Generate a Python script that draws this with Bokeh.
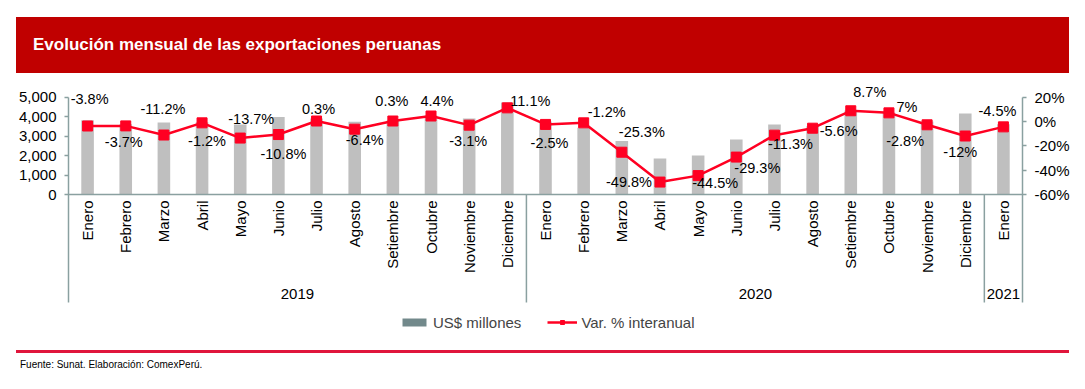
import numpy as np
from bokeh.plotting import figure
from bokeh.layouts import column
from bokeh.models import (Range1d, LinearAxis, FixedTicker, NumeralTickFormatter, PrintfTickFormatter,
                          ColumnDataSource, Span, Legend, LegendItem, Div)
from bokeh.core.properties import value
from bokeh.embed import file_html
from bokeh.resources import INLINE

# ---------------- data ----------------
title_text = "Evolución mensual de las exportaciones peruanas"
source_text = "Fuente: Sunat. Elaboración: ComexPerú."
months = ["Enero", "Febrero", "Marzo", "Abril", "Mayo", "Junio", "Julio", "Agosto",
          "Setiembre", "Octubre", "Noviembre", "Diciembre",
          "Enero", "Febrero", "Marzo", "Abril", "Mayo", "Junio", "Julio", "Agosto",
          "Setiembre", "Octubre", "Noviembre", "Diciembre",
          "Enero"]
years = ["2019"] * 12 + ["2020"] * 12 + ["2021"]
exports = [3810, 3600, 3690, 3700, 3590, 3970, 3900, 3730, 3800, 4050, 3900, 4720,
           3750, 3420, 2750, 1850, 2000, 2820, 3590, 3500, 4310, 4200, 3750, 4150,
           3600]
var_pct = [-3.8, -3.7, -11.2, -1.2, -13.7, -10.8, 0.3, -6.4, 0.3, 4.4, -3.1, 11.1,
           -2.5, -1.2, -25.3, -49.8, -44.5, -29.3, -11.3, -5.6, 8.7, 7, -2.8, -12,
           -4.5]
left_ticks = [0, 1000, 2000, 3000, 4000, 5000]
right_ticks = [-60, -40, -20, 0, 20]
bar_name = "US$ millones"
line_name = "Var. % interanual"

# ---------------- style ----------------
label_dx = [2, -2, -1, 5, 11, 5, 2, 10, -1, 6, -1, 23,
            4, 23, 20, -31, 17, 21, 16, 26, 19, 18, -22, -5, -6]
label_dy = [-27, 16, -26, 18, -19, 19, -12, 11, -20, -15, 16, -7,
            19, -11, -20, 0, 7, 11, 9, 3, -19, -6, 16, 16, -16]
FONT = "Liberation Sans"
RED = "#ff0022"
BAR = "#bfbfbf"
AXIS = "#8aa0a0"
BANNER = "#c00000"
W, H = 1077, 272
ZERO_PX = 121.0          # figure-canvas y of the zero line
UPX = 5000 / 97.5        # left-axis units per pixel


def px(n):
    return n * UPX


def to_pct(u):
    return u / 5000 * 80 - 60


n = len(months)
xs = list(range(n))
y_start, y_end = -px(H - ZERO_PX), px(ZERO_PX)

p = figure(width=W, height=H, output_backend="svg", toolbar_location=None,
           x_range=Range1d(-0.5, n - 0.5), y_range=Range1d(y_start, y_end),
           x_axis_location=None, y_axis_location=None,
           min_border_left=68, min_border_right=W - 1022, min_border_top=0, min_border_bottom=0)
p.margin = 0
p.outline_line_color = None
p.xgrid.visible = False
p.ygrid.visible = False
p.extra_y_ranges = {"pct": Range1d(to_pct(y_start), to_pct(y_end))}

sep_bottom = -px(108)

laxis = LinearAxis(ticker=FixedTicker(ticks=left_ticks), formatter=NumeralTickFormatter(format="0,0"),
                   bounds=(sep_bottom, left_ticks[-1]))
raxis = LinearAxis(y_range_name="pct", ticker=FixedTicker(ticks=right_ticks),
                   formatter=PrintfTickFormatter(format="%d%%"),
                   bounds=(to_pct(sep_bottom), right_ticks[-1]))
for ax in (laxis, raxis):
    ax.axis_line_color = AXIS
    ax.axis_line_width = 1.5
    ax.major_tick_line_color = AXIS
    ax.major_tick_line_width = 1.5
    ax.major_tick_out = 4
    ax.major_tick_in = 0
    ax.minor_tick_line_color = None
    ax.major_label_text_font = FONT
    ax.major_label_text_font_size = "15px"
    ax.major_label_text_color = "black"
    ax.major_label_standoff = 8
p.add_layout(laxis, "left")
p.add_layout(raxis, "right")

src = ColumnDataSource(dict(x=xs, exports=exports, pct=var_pct,
                            lab=[f"{v:g}%" for v in var_pct],
                            dx=label_dx, dy=label_dy, month=months,
                            my=[-px(6)] * n))

bars = p.vbar(x="x", top="exports", width=0.33, source=src, fill_color=BAR, line_color=None)
ln = p.line(x="x", y="pct", source=src, y_range_name="pct", line_color=RED, line_width=2.5)
sc = p.scatter(x="x", y="pct", source=src, y_range_name="pct", marker="square", size=10,
               fill_color=RED, line_color=RED)
p.text(x="x", y="pct", text="lab", source=src, y_range_name="pct", x_offset="dx", y_offset="dy",
       text_align="center", text_baseline="middle", text_font=value(FONT),
       text_font_size=value("14.5px"), text_color="black")

# zero line
p.add_layout(Span(location=0, dimension="width", line_color=AXIS, line_width=1.5))

# month labels
p.text(x="x", y="my", text="month", source=src, angle=np.pi / 2, text_align="right",
       text_baseline="middle", text_font=value(FONT), text_font_size=value("15px"),
       text_color="black")

# year groups and separators
uniq = []
for y in years:
    if y not in uniq:
        uniq.append(y)
yc = [float(np.mean([i for i, y in enumerate(years) if y == u])) for u in uniq]
p.text(x=yc, y=[-px(99)] * len(uniq), text=uniq, text_align="center", text_baseline="middle",
       text_font=value(FONT), text_font_size=value("15px"), text_color="black")
bx = [i - 0.5 for i in range(1, n) if years[i] != years[i - 1]]
p.segment(x0=bx, y0=[0] * len(bx), x1=bx, y1=[sep_bottom] * len(bx), line_color=AXIS, line_width=1.5)

# legend (swatch renderer sits outside the visible range)
dummy = p.vbar(x=[-10], top=[0], width=0.3, fill_color="#72898b", line_color=None)
legend = Legend(items=[LegendItem(label=bar_name, renderers=[dummy]),
                       LegendItem(label=line_name, renderers=[ln, sc])],
                orientation="horizontal", location=(331, 14), padding=0, margin=0,
                spacing=26, label_standoff=4, glyph_width=30, glyph_height=10,
                label_height=18, border_line_color=None, background_fill_alpha=0,
                label_text_font=FONT, label_text_font_size="15px")
p.add_layout(legend)

# banner and footer
banner = Div(text=title_text, width=1053, height=56, margin=(17, 0, 0, 16),
             styles={"background-color": BANNER, "color": "white", "font-family": FONT,
                     "font-weight": "bold", "font-size": "17px", "line-height": "56px",
                     "padding-left": "17px", "box-sizing": "border-box"})
footer = Div(text=source_text, width=1053, height=26, margin=(5, 0, 0, 16),
             styles={"border-top": "3px solid #e0163c", "color": "black", "font-family": FONT,
                     "font-size": "10px", "line-height": "24px", "padding-left": "4px",
                     "box-sizing": "border-box"})

layout = column(banner, p, footer, spacing=0)
open("out.html", "w").write(file_html(layout, INLINE))
